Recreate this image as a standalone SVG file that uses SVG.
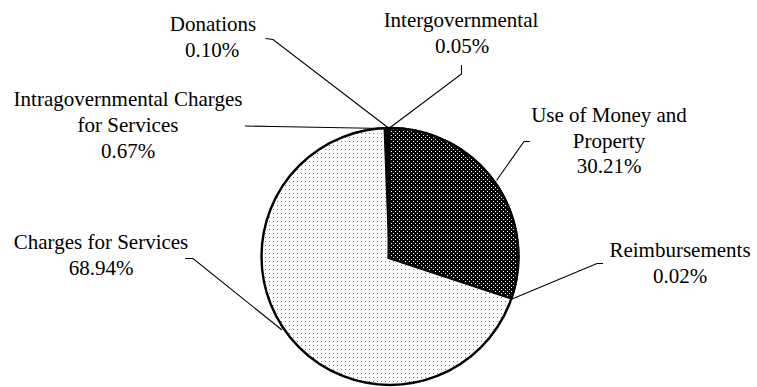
<svg xmlns="http://www.w3.org/2000/svg" width="757" height="387" viewBox="0 0 757 387">
  <style>
    .lbl { font-family: 'Liberation Serif', 'Times New Roman', Times, 'DejaVu Serif', serif; font-size: 21px; fill: #000; text-anchor: middle; }
    .lead { fill: none; stroke: #000; stroke-width: 1.1; }
    .edge { stroke: #000; stroke-width: 2.2; stroke-linejoin: miter; }
  </style>
  <defs>
    <pattern id="light" width="4" height="4" patternUnits="userSpaceOnUse">
      <rect width="4" height="4" fill="#fff"/>
      <rect x="1" y="1" width="1" height="1" fill="#777"/>
    </pattern>
    <pattern id="dark" width="4" height="4" patternUnits="userSpaceOnUse">
      <rect width="4" height="4" fill="#000"/>
      <rect x="1" y="1" width="1" height="1" fill="#fff"/>
      <rect x="3" y="3" width="1" height="1" fill="#fff"/>
    </pattern>
  </defs>
  <rect width="757" height="387" fill="#fff"/>

  <g id="pie">
    <circle id="slice-charges" cx="390" cy="256.5" r="128.5" fill="url(#light)"/>
    <path id="slice-money" class="edge" d="M388.5,258 L390,128 A128.5,128.5 0 0,1 511.4,298.5 Z" fill="url(#dark)"/>
    <path id="slice-intragov" d="M388.5,258 L383.5,128.2 A128.5,128.5 0 0,1 390,128 Z" fill="#000"/>
    <circle cx="390" cy="256.5" r="128.5" fill="none" stroke="#000" stroke-width="2.4"/>
  </g>

  <g id="connectors">
    <path class="lead" d="M265.5,38.5 L273,39.5 L388.5,128"/>
    <path class="lead" d="M461.5,65 L461.5,74 L389.5,128"/>
    <path class="lead" d="M245,126 L273,126.5 L384.5,128.5"/>
    <path class="lead" d="M530,141.5 L524,141.5 L496.5,180.5"/>
    <path class="lead" d="M603,263.5 L597,263.5 L512,299"/>
    <path class="lead" d="M185,258.5 L193,258.5 L282,330"/>
  </g>

  <g id="label-donations">
    <text class="lbl" x="213" y="31" font-family="Liberation Serif">Donations</text>
    <text class="lbl" x="212" y="57" font-family="Liberation Serif">0.10%</text>
  </g>
  <g id="label-intergov">
    <text class="lbl" x="461" y="27" font-family="Liberation Serif">Intergovernmental</text>
    <text class="lbl" x="462" y="53" font-family="Liberation Serif">0.05%</text>
  </g>
  <g id="label-intragov">
    <text class="lbl" x="128" y="105.5" font-family="Liberation Serif">Intragovernmental Charges</text>
    <text class="lbl" x="128" y="131.5" font-family="Liberation Serif">for Services</text>
    <text class="lbl" x="128" y="157.5" font-family="Liberation Serif">0.67%</text>
  </g>
  <g id="label-money">
    <text class="lbl" x="609" y="122" font-family="Liberation Serif">Use of Money and</text>
    <text class="lbl" x="609" y="147.5" font-family="Liberation Serif">Property</text>
    <text class="lbl" x="609" y="173" font-family="Liberation Serif">30.21%</text>
  </g>
  <g id="label-reimb">
    <text class="lbl" x="680" y="257" font-family="Liberation Serif">Reimbursements</text>
    <text class="lbl" x="680" y="283" font-family="Liberation Serif">0.02%</text>
  </g>
  <g id="label-charges">
    <text class="lbl" x="101" y="248.5" font-family="Liberation Serif">Charges for Services</text>
    <text class="lbl" x="101" y="275" font-family="Liberation Serif">68.94%</text>
  </g>
</svg>
